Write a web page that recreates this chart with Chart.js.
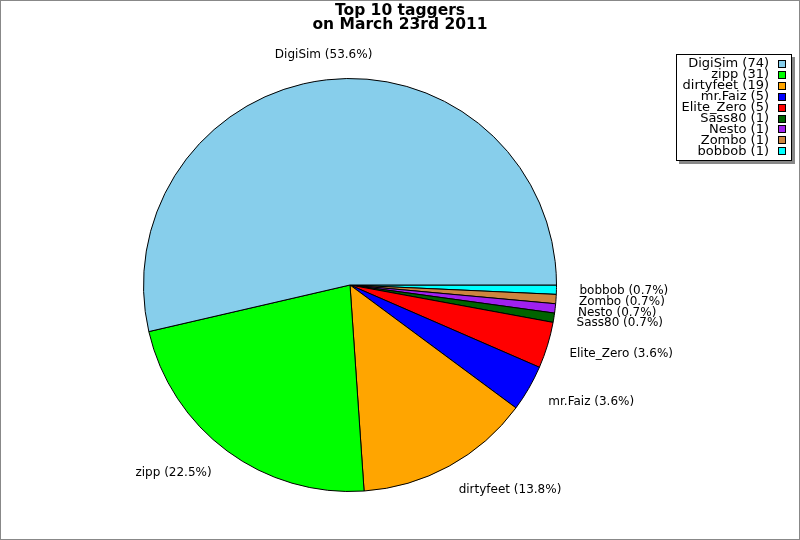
<!DOCTYPE html>
<html>
<head>
<meta charset="utf-8">
<script src="https://cdn.jsdelivr.net/npm/chart.js@4"></script>
<style>
html,body{margin:0;padding:0;background:#fff;}
canvas{display:block;}
</style>
</head>
<body>
<canvas id="c" width="800" height="540"></canvas>
<script>
const titleLines = ['Top 10 taggers', 'on March 23rd 2011'];
const categories = ['DigiSim', 'zipp', 'dirtyfeet', 'mr.Faiz', 'Elite_Zero', 'Sass80', 'Nesto', 'Zombo', 'bobbob'];
const values = [74, 31, 19, 5, 5, 1, 1, 1, 1];
const colors = ['#87CEEB', '#00FF00', '#FFA500', '#0000FF', '#FF0000', '#006400', '#A020F0', '#CD853F', '#00FFFF'];

const total = values.reduce((a, b) => a + b, 0);
// Chart.js draws clockwise; reverse the order so the slices run counter-clockwise from 3 o'clock like the reference
const drawLabels = categories.slice().reverse();
const drawValues = values.slice().reverse();
const drawColors = colors.slice().reverse();

const FONT = '"DejaVu Sans", sans-serif';

const decorPlugin = {
  id: 'decor',
  afterDraw(chart) {
    const ctx = chart.ctx;
    ctx.save();
    // outer frame
    ctx.strokeStyle = '#888';
    ctx.lineWidth = 1;
    ctx.strokeRect(0.5, 0.5, chart.width - 1, chart.height - 1);

    // title
    ctx.fillStyle = '#000';
    ctx.font = 'bold 15.5px ' + FONT;
    ctx.textAlign = 'center';
    ctx.textBaseline = 'alphabetic';
    titleLines.forEach((t, i) => ctx.fillText(t, chart.width / 2, 15 + i * 13.5));

    // slice labels
    const meta = chart.getDatasetMeta(0);
    ctx.font = '12px ' + FONT;
    meta.data.forEach((arc, i) => {
      const mid = (arc.startAngle + arc.endAngle) / 2;
      const r = arc.outerRadius + 26;
      let px = arc.x + Math.cos(mid) * r;
      const py = arc.y + Math.sin(mid) * r + 1;
      const c = Math.cos(mid);
      ctx.textAlign = c < -0.3 ? 'right' : (c > 0.3 ? 'left' : 'center');
      if (c > 0.3) px -= 3;
      ctx.textBaseline = 'middle';
      const v = drawValues[i];
      ctx.fillText(drawLabels[i] + ' (' + (v / total * 100).toFixed(1) + '%)', px, py);
    });

    // legend
    ctx.font = '13px ' + FONT;
    const items = categories.map((c, i) => c + ' (' + values[i] + ')');
    const maxW = Math.max(...items.map(t => ctx.measureText(t).width));
    const boxRight = 791, boxTop = 54, rowH = 10.9;
    const textRight = 769;
    const boxLeft = Math.round(textRight - maxW - 6);
    const boxBottom = 160;
    ctx.fillStyle = '#888';
    ctx.fillRect(boxLeft + 3, boxTop + 3, boxRight - boxLeft + 1, boxBottom - boxTop + 1);
    ctx.fillStyle = '#fff';
    ctx.fillRect(boxLeft, boxTop, boxRight - boxLeft, boxBottom - boxTop);
    ctx.strokeStyle = '#000';
    ctx.strokeRect(boxLeft + 0.5, boxTop + 0.5, boxRight - boxLeft, boxBottom - boxTop);
    ctx.textAlign = 'right';
    ctx.textBaseline = 'middle';
    items.forEach((t, i) => {
      const cy = 64 + i * rowH;
      ctx.fillStyle = '#000';
      ctx.fillText(t, textRight, cy);
      ctx.fillStyle = colors[i];
      const sy = Math.round(cy - 4);
      ctx.fillRect(778, sy, 8, 8);
      ctx.strokeStyle = '#000';
      ctx.strokeRect(778.5, sy + 0.5, 7, 7);
    });
    ctx.restore();
  }
};

new Chart(document.getElementById('c'), {
  type: 'pie',
  data: {
    labels: drawLabels,
    datasets: [{
      data: drawValues,
      backgroundColor: drawColors,
      borderColor: '#000',
      borderWidth: 1
    }]
  },
  options: {
    responsive: false,
    animation: false,
    devicePixelRatio: 1,
    rotation: 90,
    layout: { padding: { left: 143, right: 243, top: 78, bottom: 48 } },
    plugins: {
      legend: { display: false },
      title: { display: false },
      tooltip: { enabled: false }
    }
  },
  plugins: [decorPlugin]
});
</script>
</body>
</html>
